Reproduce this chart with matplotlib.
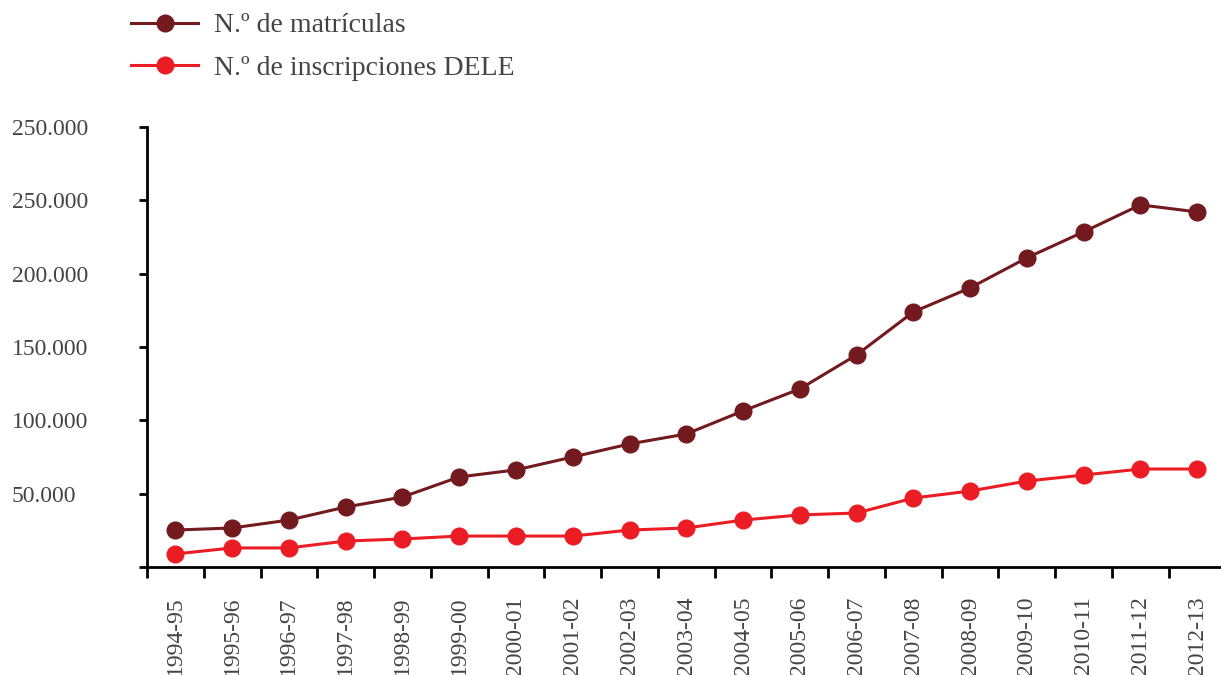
import numpy as np
import matplotlib
matplotlib.use('Agg')
import matplotlib.pyplot as plt

cursos = ['1994-95', '1995-96', '1996-97', '1997-98', '1998-99', '1999-00',
          '2000-01', '2001-02', '2002-03', '2003-04', '2004-05', '2005-06',
          '2006-07', '2007-08', '2008-09', '2009-10', '2010-11', '2011-12',
          '2012-13']
matriculas = [25200, 26600, 32000, 40900, 47700, 61400, 66200, 75000, 83900,
              90700, 106400, 121400, 144600, 173900, 190300, 210800, 228500,
              246900, 242100]
dele = [8900, 13000, 13000, 17700, 19100, 21100, 21100, 21100, 25200, 26600,
        32000, 35500, 36800, 47000, 51800, 58600, 62700, 66800, 66800]
y_ticks = [0, 50000, 100000, 150000, 200000, 250000, 300000]
y_labels = ['', '50.000', '100.000', '150.000', '200.000', '250.000', '250.000']

plt.rcParams['font.family'] = ['Liberation Serif', 'DejaVu Serif']
texto = '#444444'
granate = '#731a1f'
rojo = '#ec1c24'

fig = plt.figure(figsize=(12.21, 6.75), dpi=100)
ax = fig.add_axes([147 / 1221, 1 - 567 / 675, 1 - 147 / 1221, (567 - 127) / 675])

x = np.arange(len(cursos))
ax.plot(x, matriculas, color=granate, lw=2.2, marker='o', markersize=12,
        label='N.º de matrículas', clip_on=False)
ax.plot(x, dele, color=rojo, lw=2.2, marker='o', markersize=12,
        label='N.º de inscripciones DELE', clip_on=False)

ax.set_xlim(-0.5, 18.42)
ax.set_ylim(0, 300000)

for s in ['top', 'right']:
    ax.spines[s].set_visible(False)
for s in ['left', 'bottom']:
    ax.spines[s].set_linewidth(2)
    ax.spines[s].set_color('black')

ax.set_yticks(y_ticks)
ax.set_yticklabels(y_labels, ha='left', fontsize=17, color=texto)
ax.tick_params(axis='y', length=6, width=2, pad=91.5)

ax.set_xticks(x)
ax.set_xticklabels(cursos, rotation=90, va='top', fontsize=17, color=texto)
ax.set_xticks(np.arange(-0.5, 18, 1), minor=True)
ax.tick_params(axis='x', which='major', length=0, pad=21)
ax.tick_params(axis='x', which='minor', length=8, width=2)

fig.legend(loc='upper left', bbox_to_anchor=(131 / 1221, 1 - 13 / 675),
           frameon=False, fontsize=20, labelcolor=texto, handlelength=2.42,
           handletextpad=0.55, labelspacing=0.62, borderpad=0,
           borderaxespad=0)

plt.savefig('out.png', dpi=100)
plt.close()
